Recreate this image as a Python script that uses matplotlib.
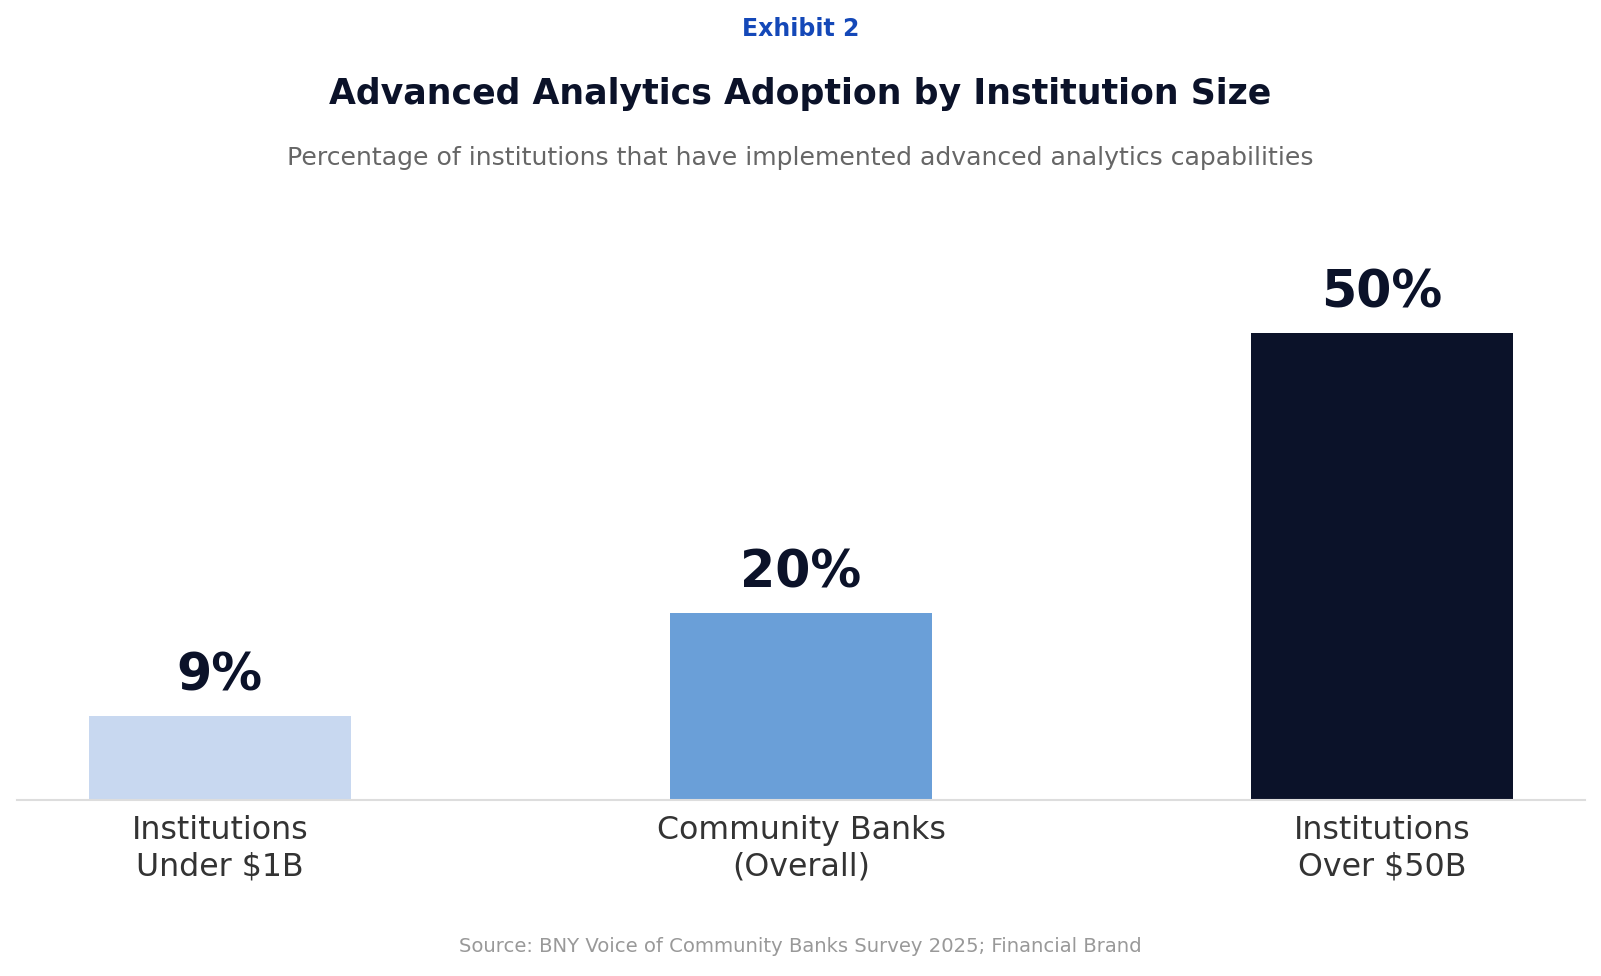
import matplotlib
matplotlib.use("Agg")
import matplotlib.pyplot as plt

categories = ["Institutions\nUnder $1B", "Community Banks\n(Overall)", "Institutions\nOver $50B"]
values = [9, 20, 50]
value_labels = ["9%", "20%", "50%"]
bar_colors = ["#c8d8f0", "#6a9fd8", "#0b1229"]

exhibit = "Exhibit 2"
title = "Advanced Analytics Adoption by Institution Size"
subtitle = "Percentage of institutions that have implemented advanced analytics capabilities"
source = "Source: BNY Voice of Community Banks Survey 2025; Financial Brand"

plt.rcParams['font.family'] = ['DejaVu Sans']

W, H = 1601, 976
fig = plt.figure(figsize=(W / 100, H / 100), dpi=100)
fig.patch.set_facecolor("white")

ax = fig.add_axes([17 / W, 176 / H, 1568 / W, 560 / H])
x = list(range(len(categories)))
ax.bar(x, values, width=0.451, color=bar_colors, zorder=2)
ax.set_xlim(-0.349, 2.349)
ax.set_ylim(0, 60)

for xi, v, lab in zip(x, values, value_labels):
    ax.annotate(lab, (xi, v), xytext=(0, 18.5), textcoords="offset points",
                ha="center", va="baseline", fontsize=36.5, fontweight="bold",
                color="#0b1229")

ax.set_xticks(x)
ax.set_xticklabels(categories, fontsize=22.8, color="#333333", linespacing=1.2)
ax.tick_params(axis="x", length=0, pad=11)
ax.set_yticks([])
for s in ["left", "right", "top"]:
    ax.spines[s].set_visible(False)
ax.spines["bottom"].set_color("#dddddd")
ax.spines["bottom"].set_linewidth(1.5)

fig.text(0.5, 1 - 29 / H, exhibit, ha="center", va="center", fontsize=17,
         fontweight="bold", color="#1448b8")
fig.text(0.5, 1 - 94 / H, title, ha="center", va="center", fontsize=25,
         fontweight="bold", color="#0b1229")
fig.text(0.5, 1 - 158 / H, subtitle, ha="center", va="center", fontsize=18.1,
         color="#666666")
fig.text(0.5, 1 - 947 / H, source, ha="center", va="center", fontsize=14.1,
         color="#999999")

fig.savefig("out.png", dpi=100, facecolor="white")
